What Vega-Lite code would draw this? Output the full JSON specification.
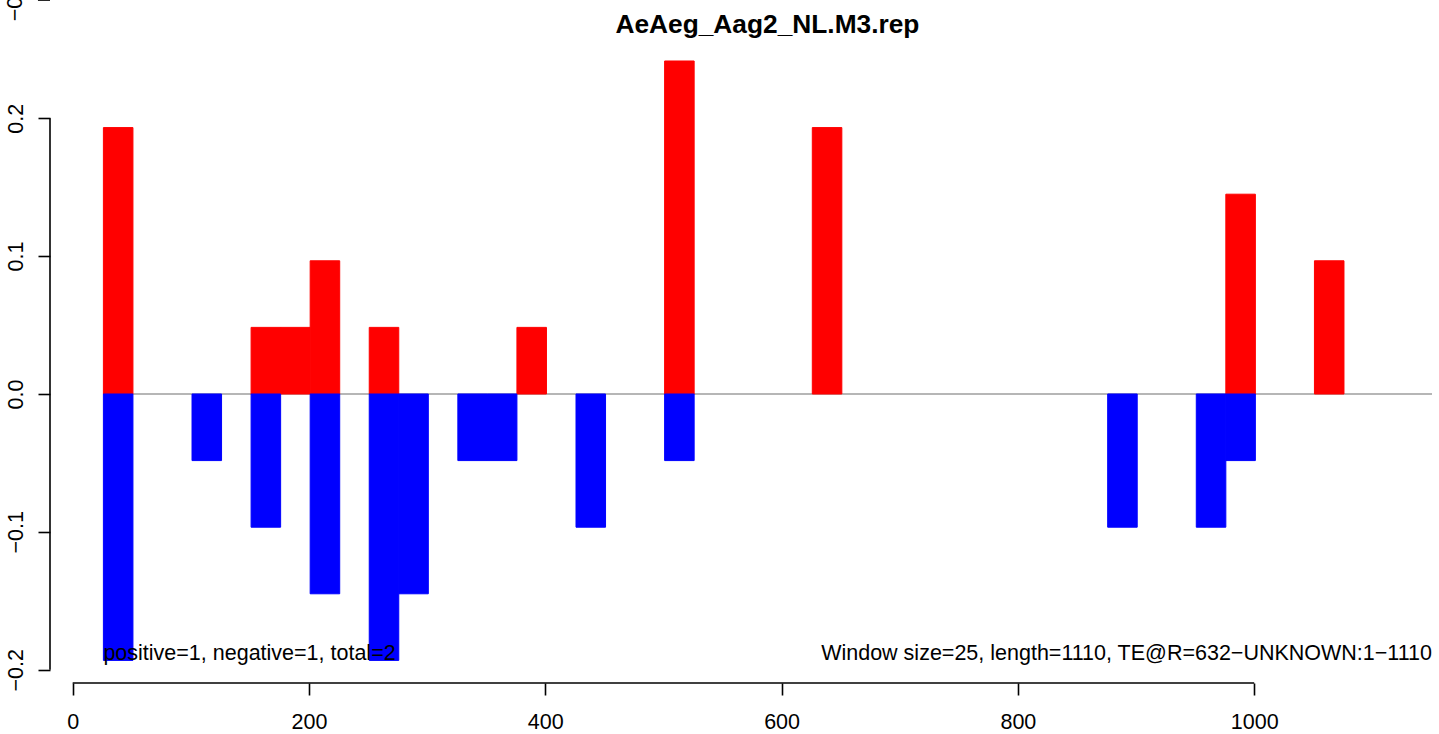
{
  "$schema": "https://vega.github.io/schema/vega-lite/v6.json",
  "autosize": {"type": "none"},
  "padding": {"left": 50, "top": 37, "right": 7, "bottom": 51},
  "width": 1382,
  "height": 646,
  "background": "white",
  "config": {"view": {"stroke": null}, "font": "Liberation Sans"},
  "datasets": {
    "bars": [
      {"start": 26, "end": 51, "value": 0.1932, "strand": "pos"},
      {"start": 151, "end": 176, "value": 0.0483, "strand": "pos"},
      {"start": 176, "end": 201, "value": 0.0483, "strand": "pos"},
      {"start": 201, "end": 226, "value": 0.0966, "strand": "pos"},
      {"start": 251, "end": 276, "value": 0.0483, "strand": "pos"},
      {"start": 376, "end": 401, "value": 0.0483, "strand": "pos"},
      {"start": 501, "end": 526, "value": 0.2415, "strand": "pos"},
      {"start": 626, "end": 651, "value": 0.1932, "strand": "pos"},
      {"start": 976, "end": 1001, "value": 0.1449, "strand": "pos"},
      {"start": 1051, "end": 1076, "value": 0.0966, "strand": "pos"},
      {"start": 26, "end": 51, "value": -0.1932, "strand": "neg"},
      {"start": 101, "end": 126, "value": -0.0483, "strand": "neg"},
      {"start": 151, "end": 176, "value": -0.0966, "strand": "neg"},
      {"start": 201, "end": 226, "value": -0.1449, "strand": "neg"},
      {"start": 251, "end": 276, "value": -0.1932, "strand": "neg"},
      {"start": 276, "end": 301, "value": -0.1449, "strand": "neg"},
      {"start": 326, "end": 351, "value": -0.0483, "strand": "neg"},
      {"start": 351, "end": 376, "value": -0.0483, "strand": "neg"},
      {"start": 426, "end": 451, "value": -0.0966, "strand": "neg"},
      {"start": 501, "end": 526, "value": -0.0483, "strand": "neg"},
      {"start": 876, "end": 901, "value": -0.0966, "strand": "neg"},
      {"start": 951, "end": 976, "value": -0.0966, "strand": "neg"},
      {"start": 976, "end": 1001, "value": -0.0483, "strand": "neg"}
    ],
    "one": [{"label": "x"}]
  },
  "layer": [
    {
      "data": {"name": "one"},
      "mark": {"type": "rule", "color": "#9E9E9E", "strokeWidth": 1.6},
      "encoding": {
        "x": {"datum": 26, "type": "quantitative"},
        "x2": {"datum": 1150.5},
        "y": {"datum": 0, "type": "quantitative"}
      }
    },
    {
      "data": {"name": "bars"},
      "mark": {"type": "rect", "strokeWidth": 1, "opacity": 1},
      "encoding": {
        "x": {
          "field": "start",
          "type": "quantitative",
          "scale": {"domain": [-19.2, 1150.5], "nice": false, "zero": false},
          "axis": {
            "values": [0, 200, 400, 600, 800, 1000],
            "format": "d",
            "domain": false,
            "grid": false,
            "ticks": true,
            "tickSize": 12,
            "tickWidth": 1.6,
            "tickColor": "black",
            "labelFont": "Liberation Sans",
            "labelFontSize": 21.5,
            "labelColor": "black",
            "labelPadding": 16,
            "labelFlush": false,
            "labelOverlap": false,
            "title": null
          }
        },
        "x2": {"field": "end"},
        "y": {
          "field": "value",
          "type": "quantitative",
          "scale": {"domain": [-0.2096, 0.2589], "nice": false, "zero": false},
          "axis": {
            "values": [-0.2, -0.1, 0, 0.1, 0.2],
            "format": ".1f",
            "domain": false,
            "grid": false,
            "ticks": true,
            "tickSize": 12,
            "tickWidth": 1.6,
            "tickColor": "black",
            "labelFont": "Liberation Sans",
            "labelFontSize": 21.5,
            "labelColor": "black",
            "labelAngle": 270,
            "labelAlign": "center",
            "labelBaseline": "alphabetic",
            "labelPadding": 16,
            "labelFlush": false,
            "labelOverlap": false,
            "title": null
          }
        },
        "y2": {"datum": 0},
        "color": {
          "field": "strand",
          "type": "nominal",
          "scale": {"domain": ["pos", "neg"], "range": ["#FF0000", "#0000FF"]},
          "legend": null
        },
        "stroke": {
          "field": "strand",
          "type": "nominal",
          "scale": {"domain": ["pos", "neg"], "range": ["#FF0000", "#0000FF"]},
          "legend": null
        }
      }
    },
    {
      "data": {"name": "one"},
      "mark": {"type": "rule", "color": "black", "strokeWidth": 1.6},
      "encoding": {
        "x": {"datum": 0, "type": "quantitative"},
        "x2": {"datum": 1000},
        "y": {"datum": -0.2096, "type": "quantitative"}
      }
    },
    {
      "data": {"name": "one"},
      "mark": {"type": "rule", "color": "black", "strokeWidth": 1.6},
      "encoding": {
        "x": {"datum": -19.2, "type": "quantitative"},
        "y": {"datum": -0.2, "type": "quantitative"},
        "y2": {"datum": 0.2}
      }
    },
    {
      "data": {"name": "one"},
      "mark": {"type": "rule", "color": "black", "strokeWidth": 1.6, "clip": false},
      "encoding": {
        "x": {"datum": -29.4, "type": "quantitative"},
        "x2": {"datum": -19.2},
        "y": {"datum": 0.2857, "type": "quantitative"}
      }
    },
    {
      "data": {"name": "one"},
      "mark": {"type": "text", "font": "Liberation Sans", "fontSize": 21.5, "color": "black", "angle": 270, "align": "center", "baseline": "alphabetic", "clip": false},
      "encoding": {
        "x": {"datum": -42.9, "type": "quantitative"},
        "y": {"datum": 0.2857, "type": "quantitative"},
        "text": {"value": "−0.2"}
      }
    },
    {
      "data": {"name": "one"},
      "mark": {"type": "text", "font": "Liberation Sans", "fontSize": 26.3, "fontWeight": "bold", "color": "black", "align": "center", "baseline": "alphabetic", "clip": false},
      "encoding": {
        "x": {"datum": 588, "type": "quantitative"},
        "y": {"datum": 0.2616, "type": "quantitative"},
        "text": {"value": "AeAeg_Aag2_NL.M3.rep"}
      }
    },
    {
      "data": {"name": "one"},
      "mark": {"type": "text", "font": "Liberation Sans", "fontSize": 21.5, "color": "black", "align": "left", "baseline": "alphabetic"},
      "encoding": {
        "x": {"datum": 26, "type": "quantitative"},
        "y": {"datum": -0.193, "type": "quantitative"},
        "text": {"value": "positive=1, negative=1, total=2"}
      }
    },
    {
      "data": {"name": "one"},
      "mark": {"type": "text", "font": "Liberation Sans", "fontSize": 21.5, "color": "black", "align": "right", "baseline": "alphabetic"},
      "encoding": {
        "x": {"datum": 1150.5, "type": "quantitative"},
        "y": {"datum": -0.193, "type": "quantitative"},
        "text": {"value": "Window size=25, length=1110, TE@R=632−UNKNOWN:1−1110"}
      }
    }
  ]
}
